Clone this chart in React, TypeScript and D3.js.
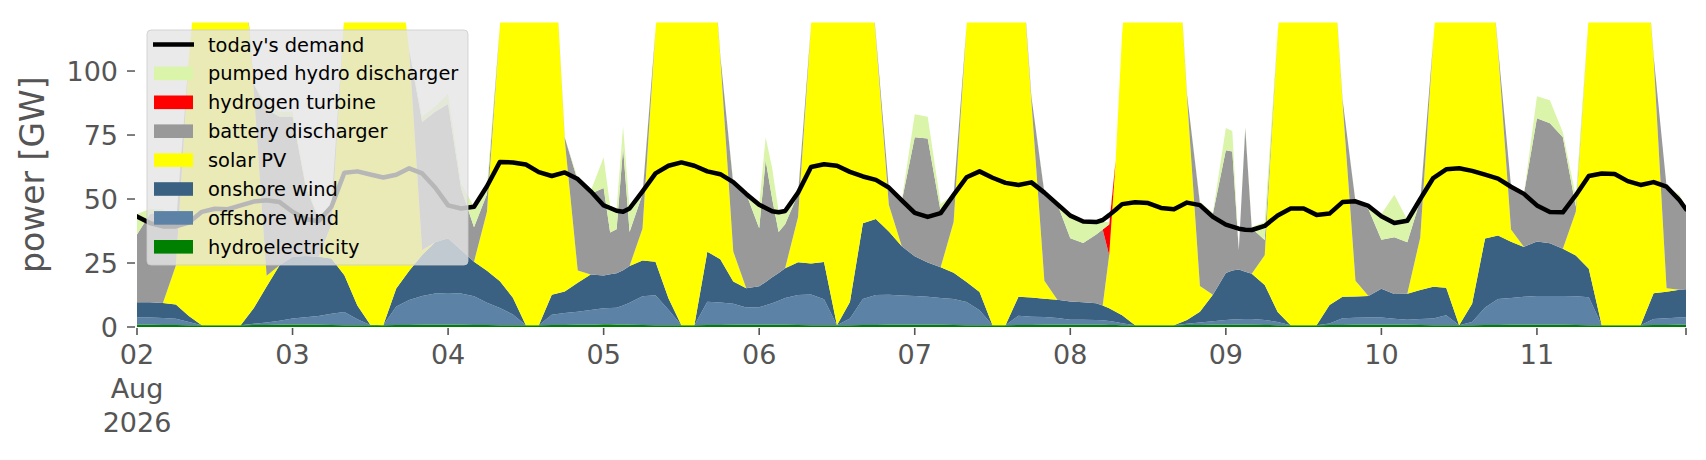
import React from 'react';
import * as d3 from 'd3';

// hours after 02 Aug 2026 00:00 (2-hourly, with a few extra hours at narrow spikes)
const hours = [
  0, 2, 4, 6, 8, 10, 12, 14, 16, 18, 20, 22,
  24, 26, 28, 30, 32, 34, 36, 38, 40, 42, 44, 46,
  48, 50, 52, 54, 56, 58, 60, 62, 64, 66, 68, 70,
  72, 73, 74, 75, 76, 78, 80, 82, 84, 86, 88, 90, 92, 94,
  96, 97, 98, 99, 100, 102, 104, 106, 108, 110, 112, 114, 116, 118,
  120, 122, 124, 126, 128, 130, 132, 134, 136, 138, 140, 142,
  144, 146, 148, 149, 150, 151, 152, 154, 156, 158, 160, 162, 164, 166,
  168, 169, 170, 171, 172, 174, 176, 178, 180, 182, 184, 186, 188, 190,
  192, 194, 196, 198, 200, 202, 204, 206, 208, 210, 212, 214,
  216, 218, 220, 222, 224, 226, 228, 230, 232, 234, 236, 238, 239,
];

// GW
const hydroelectricity = [
  0.9, 0.9, 0.8, 0.8, 0.7, 0.7, 0.7, 0.7, 0.7, 0.8, 0.8, 0.9,
  1.0, 1.0, 0.9, 0.8, 0.7, 0.7, 0.7, 0.7, 0.8, 0.8, 0.9, 0.9,
  0.9, 0.9, 0.8, 0.8, 0.7, 0.7, 0.7, 0.7, 0.8, 0.8, 0.9, 0.9,
  1.1, 1.1, 1.0, 1.0, 0.9, 0.8, 0.7, 0.7, 0.7, 0.7, 0.8, 0.8, 0.9, 0.9,
  0.9, 0.9, 0.9, 0.9, 0.9, 0.8, 0.7, 0.7, 0.7, 0.7, 0.8, 0.8, 0.9, 0.9,
  0.9, 0.9, 0.9, 0.8, 0.7, 0.7, 0.7, 0.7, 0.8, 0.8, 0.9, 0.9,
  0.9, 0.9, 0.9, 0.9, 0.8, 0.8, 0.7, 0.7, 0.7, 0.7, 0.7, 0.8, 0.8, 0.9,
  0.9, 0.9, 0.9, 0.9, 0.9, 0.8, 0.7, 0.7, 0.7, 0.7, 0.8, 0.8, 0.9, 0.9,
  0.9, 0.9, 0.9, 0.8, 0.7, 0.7, 0.7, 0.7, 0.8, 0.8, 0.9, 0.9,
  0.9, 0.9, 0.9, 0.8, 0.7, 0.7, 0.7, 0.7, 0.7, 0.8, 0.8, 0.9, 0.9,
];
const offshoreWind = [
  2.8, 2.8, 2.7, 2.4, 1.3, 0, 0, 0, 0, 0.5, 1.0, 1.5,
  2.3, 2.8, 3.4, 4.4, 5.2, 2.3, 0.1, 0, 7.2, 9.7, 11.2, 12.2,
  12.4, 12.2, 11.2, 8.7, 6.7, 4.2, 0, 0, 4.0, 4.7, 5.1, 5.7,
  6.2, 6.3, 6.5, 7.4, 8.6, 11.2, 11.7, 6.0, 0, 0, 9.1, 8.8, 8.2, 6.7,
  6.8, 7.6, 8.4, 9.4, 10.4, 11.7, 12.0, 10.1, 0, 2.6, 10.1, 11.7, 11.7, 11.4,
  11.2, 10.9, 10.4, 10.1, 9.1, 5.8, 0, 0, 3.6, 3.2, 3.0, 2.6,
  1.9, 1.9, 1.8, 1.7, 1.5, 1.2, 0.8, 0, 0, 0, 0, 0.5, 1.0, 1.3,
  1.8, 2.0, 2.1, 2.2, 2.2, 1.9, 1.3, 0, 0, 0, 0.6, 2.6, 2.7, 2.8,
  2.8, 2.3, 1.9, 2.3, 2.6, 3.9, 0, 1.3, 6.8, 10.1, 10.4, 10.9,
  11.2, 11.2, 11.2, 11.2, 10.9, 0, 0, 0, 0, 2.3, 2.6, 2.8, 2.8,
];
const onshoreWind = [
  6.0, 6.0, 5.9, 5.6, 2.3, 0, 0, 0, 0, 6.0, 14.0, 21.7,
  24.1, 23.9, 23.1, 21.6, 14.3, 5.4, 0.1, 0, 7.0, 11.5, 16.0, 20.0,
  21.4, 17.0, 13.5, 12.5, 10.5, 6.5, 0, 0, 7.8, 8.4, 11.3, 13.9,
  12.8, 13.2, 13.5, 13.8, 14.3, 14.0, 13.1, 4.5, 0, 0, 19.5, 16.9, 8.7, 7.5,
  8.2, 9.1, 10.1, 10.8, 11.7, 12.8, 12.1, 14.6, 0, 6.5, 29.6, 29.7, 24.7, 19.2,
  15.5, 13.4, 12.0, 10.3, 7.8, 7.2, 0, 0, 7.4, 7.5, 7.1, 7.1,
  7.2, 6.9, 6.6, 5.8, 5.0, 4.0, 3.1, 0, 0, 0, 0, 1.4, 4.2, 10.4,
  18.4, 19.2, 19.5, 18.5, 17.7, 13.7, 3.9, 0, 0, 0, 7.2, 8.4, 8.3, 8.4,
  11.2, 9.7, 10.2, 11.4, 12.4, 10.7, 0, 7.1, 27.0, 24.8, 22.0, 19.5,
  21.3, 20.6, 18.5, 15.9, 11.2, 0, 0, 0, 0, 10.1, 10.4, 10.9, 11.0,
];
const solarPV = [
  0, 0, 0, 15.2, 100.6, 159.2, 184.2, 179.2, 159.2, 85.7, 4.2, 0,
  0, 0, 0, 13.2, 101.7, 156.5, 184.0, 179.2, 135.0, 86.0, 2.0, 0,
  0, 0, 0, 23.0, 100.0, 158.5, 189.2, 184.2, 152.4, 59.1, 4.8, 0,
  0, 0, 0, 0, 0, 12.5, 90.4, 158.7, 194.2, 194.2, 145.6, 78.5, 11.7, 0,
  0, 0, 0, 0, 0, 17.7, 93.1, 149.5, 194.2, 180.1, 129.5, 70.8, 10.5, 0,
  0, 0, 0, 19.8, 100.3, 156.2, 194.2, 189.2, 148.2, 76.5, 7.1, 0,
  0, 0, 0, 0, 20.7, 59.0, 110.3, 169.2, 189.2, 184.2, 174.2, 87.3, 10.0, 0,
  0, 0, 0, 0, 0, 11.6, 109.0, 169.2, 194.2, 189.2, 156.4, 76.2, 6.2, 0,
  0, 0, 0, 20.5, 96.2, 154.6, 194.2, 180.8, 130.4, 72.3, 4.8, 0,
  0, 0, 0, 17.1, 99.1, 174.2, 194.2, 189.2, 169.2, 91.8, 1.3, 0, 0,
];
const batteryDischarger = [
  26.4, 34.4, 35.6, 16.0, 0, 0, 0, 0, 0, 2.0, 65.0, 58.0,
  54.8, 27.5, 14.7, 7.0, 0, 0, 0, 0, 0, 0, 50.0, 51.0,
  52.4, 24.0, 13.5, 7.0, 0, 0, 0, 0, 0, 1.0, 35.0, 31.6,
  34.2, 16.3, 17.2, 47.8, 13.3, 13.5, 0, 0, 0, 0, 0, 1.0, 26.6, 37.0,
  22.7, 47.5, 30.7, 16.0, 17.1, 9.0, 0, 0, 0, 0, 0, 1.0, 6.5, 17.6,
  46.5, 48.4, 21.8, 10.6, 0, 0, 0, 0, 0, 2.0, 34.5, 37.5,
  24.7, 23.1, 26.8, 29.7, 0, 0, 0, 0, 0, 0, 0, 1.0, 32.5, 31.5,
  48.0, 46.5, 7.6, 56.1, 17.8, 6.0, 0, 0, 0, 0, 0, 1.0, 31.0, 34.0,
  19.2, 22.2, 20.1, 14.5, 0, 0, 0, 0, 0, 1.0, 17.0, 20.8,
  48.2, 46.9, 43.5, 2.0, 0, 0, 0, 0, 0, 1.0, 39.9, 36.5, 31.4,
];
const hydrogenTurbine = [
  0, 0, 0, 0, 0, 0, 0, 0, 0, 0, 0, 0,
  0, 0, 0, 0, 0, 0, 0, 0, 0, 0, 0, 0,
  0, 0, 0, 0, 0, 0, 0, 0, 0, 0, 0, 0,
  0, 0, 0, 0, 0, 0, 0, 0, 0, 0, 0, 0, 0, 0,
  0, 0, 0, 0, 0, 0, 0, 0, 0, 0, 0, 0, 0, 0,
  0, 0, 0, 0, 0, 0, 0, 0, 0, 0, 0, 0,
  0, 0, 0, 0, 12.0, 0, 0, 0, 0, 0, 0, 0, 0, 0,
  0, 0, 0, 0, 0, 0, 0, 0, 0, 0, 0, 0, 0, 0,
  0, 0, 0, 0, 0, 0, 0, 0, 0, 0, 0, 0,
  0, 0, 0, 0, 0, 0, 0, 0, 0, 0, 0, 0, 0,
];
const pumpedHydroDischarger = [
  8.0, 2.0, 1.0, 1.0, 0, 0, 0, 0, 0, 0, 2.0, 2.0,
  2.0, 1.0, 1.0, 1.0, 0, 0, 0, 0, 0, 0, 2.0, 2.0,
  4.0, 2.0, 8.0, 3.0, 0, 0, 0, 0, 0, 0, 1.0, 1.0,
  12.0, 10.4, 8.0, 8.5, 9.0, 0.5, 0, 0, 0, 0, 0, 0, 0.6, 0,
  9.3, 9.0, 12.0, 8.0, 5.5, 0.5, 0, 0, 0, 0, 0, 0, 0.3, 0.5,
  9.0, 8.5, 3.0, 0.4, 0, 0, 0, 0, 0, 0, 0.5, 0.5,
  8.9, 8.8, 5.0, 3.0, 1.0, 0, 0, 0, 0, 0, 0, 0, 0.5, 0.5,
  8.6, 8.0, 0, 0.7, 0.5, 7.0, 0, 0, 0, 0, 0, 0, 0.3, 1.0,
  10.0, 16.6, 8.8, 0.5, 0, 0, 0, 0, 0, 0, 0, 0,
  8.5, 9.0, 2.0, 4.0, 0, 0, 0, 0, 0, 0, 0, 0.6, 0.4,
];
const todaysDemand = [
  43.2, 40.6, 39.3, 39.3, 40.8, 45.0, 46.2, 46.0, 47.5, 49.0, 49.5, 48.8,
  45.0, 42.2, 41.3, 47.0, 60.3, 60.8, 59.6, 58.4, 59.5, 62.0, 60.0, 54.5,
  47.5, 46.3, 47.0, 55.0, 64.5, 64.3, 63.5, 60.5, 59.0, 60.4, 57.8, 53.0,
  47.5, 46.5, 45.4, 45.0, 46.3, 53.0, 60.0, 63.0, 64.3, 63.0, 60.8, 59.7, 56.6, 52.0,
  47.8, 46.5, 45.2, 44.8, 45.3, 52.5, 62.5, 63.6, 63.0, 60.6, 58.8, 57.5, 54.5, 49.5,
  44.6, 43.0, 44.5, 51.6, 58.5, 60.8, 58.3, 56.3, 55.5, 56.5, 52.5, 48.0,
  43.5, 41.2, 41.0, 41.8, 43.7, 45.8, 48.0, 48.7, 48.4, 46.5, 46.0, 48.6, 47.6, 43.0,
  40.0, 39.2, 38.4, 38.0, 37.9, 39.5, 43.6, 46.3, 46.3, 43.8, 44.3, 48.8, 49.1, 47.3,
  43.3, 40.6, 41.5, 50.0, 58.2, 61.6, 62.0, 61.0, 59.5, 58.0, 54.8, 52.0,
  47.5, 44.9, 44.8, 51.5, 59.0, 60.0, 59.8, 57.0, 55.5, 56.6, 54.8, 49.5, 46.0,
];

// bottom of the stack first
const carriers = [
  { key: 'hydro', label: 'hydroelectricity', color: '#008000', values: hydroelectricity },
  { key: 'offwind', label: 'offshore wind', color: '#5c83a6', values: offshoreWind },
  { key: 'onwind', label: 'onshore wind', color: '#3b6182', values: onshoreWind },
  { key: 'solar', label: 'solar PV', color: '#ffff00', values: solarPV },
  { key: 'battery', label: 'battery discharger', color: '#999999', values: batteryDischarger },
  { key: 'h2', label: 'hydrogen turbine', color: '#ff0000', values: hydrogenTurbine },
  { key: 'phs', label: 'pumped hydro discharger', color: '#daf5aa', values: pumpedHydroDischarger },
];

const yTicks = [0, 25, 50, 75, 100];

const W = 1706;
const H = 460;
const FONT = 'DejaVu Sans, Verdana, sans-serif';
const START = new Date(2026, 7, 2, 0, 0, 0);

const App: React.FC = () => {
  const x = d3.scaleTime()
    .domain([START, d3.timeHour.offset(START, 239)])
    .range([137, 1686]);
  const y = d3.scaleLinear().domain([0, 119]).range([327, 22.4]);

  const rows = hours.map((h, i) => {
    const row: any = { t: d3.timeHour.offset(START, h) };
    carriers.forEach(c => { row[c.key] = c.values[i]; });
    return row;
  });
  const stacked = d3.stack<any>().keys(carriers.map(c => c.key))(rows);

  const area = d3.area<any>()
    .x(d => x(d.data.t))
    .y0(d => y(d[0]))
    .y1(d => y(d[1]));

  const demandLine = d3.line<number>()
    .x((_, i) => x(d3.timeHour.offset(START, hours[i])))
    .y(d => y(d));

  const days = d3.timeDay.range(START, d3.timeDay.offset(START, 10));
  const fmtDay = d3.timeFormat('%d');

  const legendItems = [
    { label: "today's demand", color: '#000', line: true },
    ...carriers.slice().reverse().map(c => ({ label: c.label, color: c.color, line: false })),
  ];

  return (
    <div style={{ position: 'absolute', left: 0, top: 0 }}>
      <svg width={W} height={H} style={{ display: 'block', background: '#fff' }} fontFamily={FONT}>
        <defs>
          <clipPath id="plot">
            <rect x={137} y={22.4} width={1686 - 137} height={327 - 22.4} />
          </clipPath>
        </defs>

        <g clipPath="url(#plot)">
          {stacked.map((s, i) => (
            <path key={s.key} d={area(s) || ''} fill={carriers[i].color} />
          ))}
          <path d={demandLine(todaysDemand) || ''} fill="none" stroke="#000"
            strokeWidth={4.5} strokeLinejoin="round" strokeLinecap="round" />
        </g>

        {/* y axis */}
        {yTicks.map(t => (
          <g key={t}>
            <line x1={127} x2={135} y1={y(t)} y2={y(t)} stroke="#555" strokeWidth={1.5} />
            <text x={118} y={y(t) + 9.8} textAnchor="end" fontSize={27} fill="#555">{t}</text>
          </g>
        ))}
        <text transform={`translate(44,${(22.4 + 327) / 2}) rotate(-90)`} textAnchor="middle"
          fontSize={33} fill="#555">power [GW]</text>

        {/* x axis */}
        {days.map((d, i) => (
          <g key={i}>
            <line x1={x(d)} x2={x(d)} y1={328} y2={335} stroke="#555" strokeWidth={1.6} />
            <text x={x(d)} y={364} textAnchor="middle" fontSize={27} fill="#555">{fmtDay(d)}</text>
            {i === 0 && (
              <>
                <text x={x(d)} y={398} textAnchor="middle" fontSize={27} fill="#555">Aug</text>
                <text x={x(d)} y={432} textAnchor="middle" fontSize={27} fill="#555">2026</text>
              </>
            )}
          </g>
        ))}
        <line x1={1686} x2={1686} y1={328} y2={335} stroke="#555" strokeWidth={1.6} />

        {/* legend */}
        <g>
          <rect x={147} y={30} width={321} height={235} rx={4} fill="#e5e5e5" fillOpacity={0.8}
            stroke="#cccccc" strokeOpacity={0.8} />
          {legendItems.map((it, i) => {
            const cy = 44.5 + i * 28.9;
            return (
              <g key={it.label}>
                {it.line
                  ? <line x1={153} x2={194} y1={cy} y2={cy} stroke="#000" strokeWidth={4.5} />
                  : <rect x={154} y={cy - 6.8} width={39} height={13.6} fill={it.color} />}
                <text x={208} y={cy + 7} fontSize={19.4} fill="#000">{it.label}</text>
              </g>
            );
          })}
        </g>
      </svg>
    </div>
  );
};

export default App;
